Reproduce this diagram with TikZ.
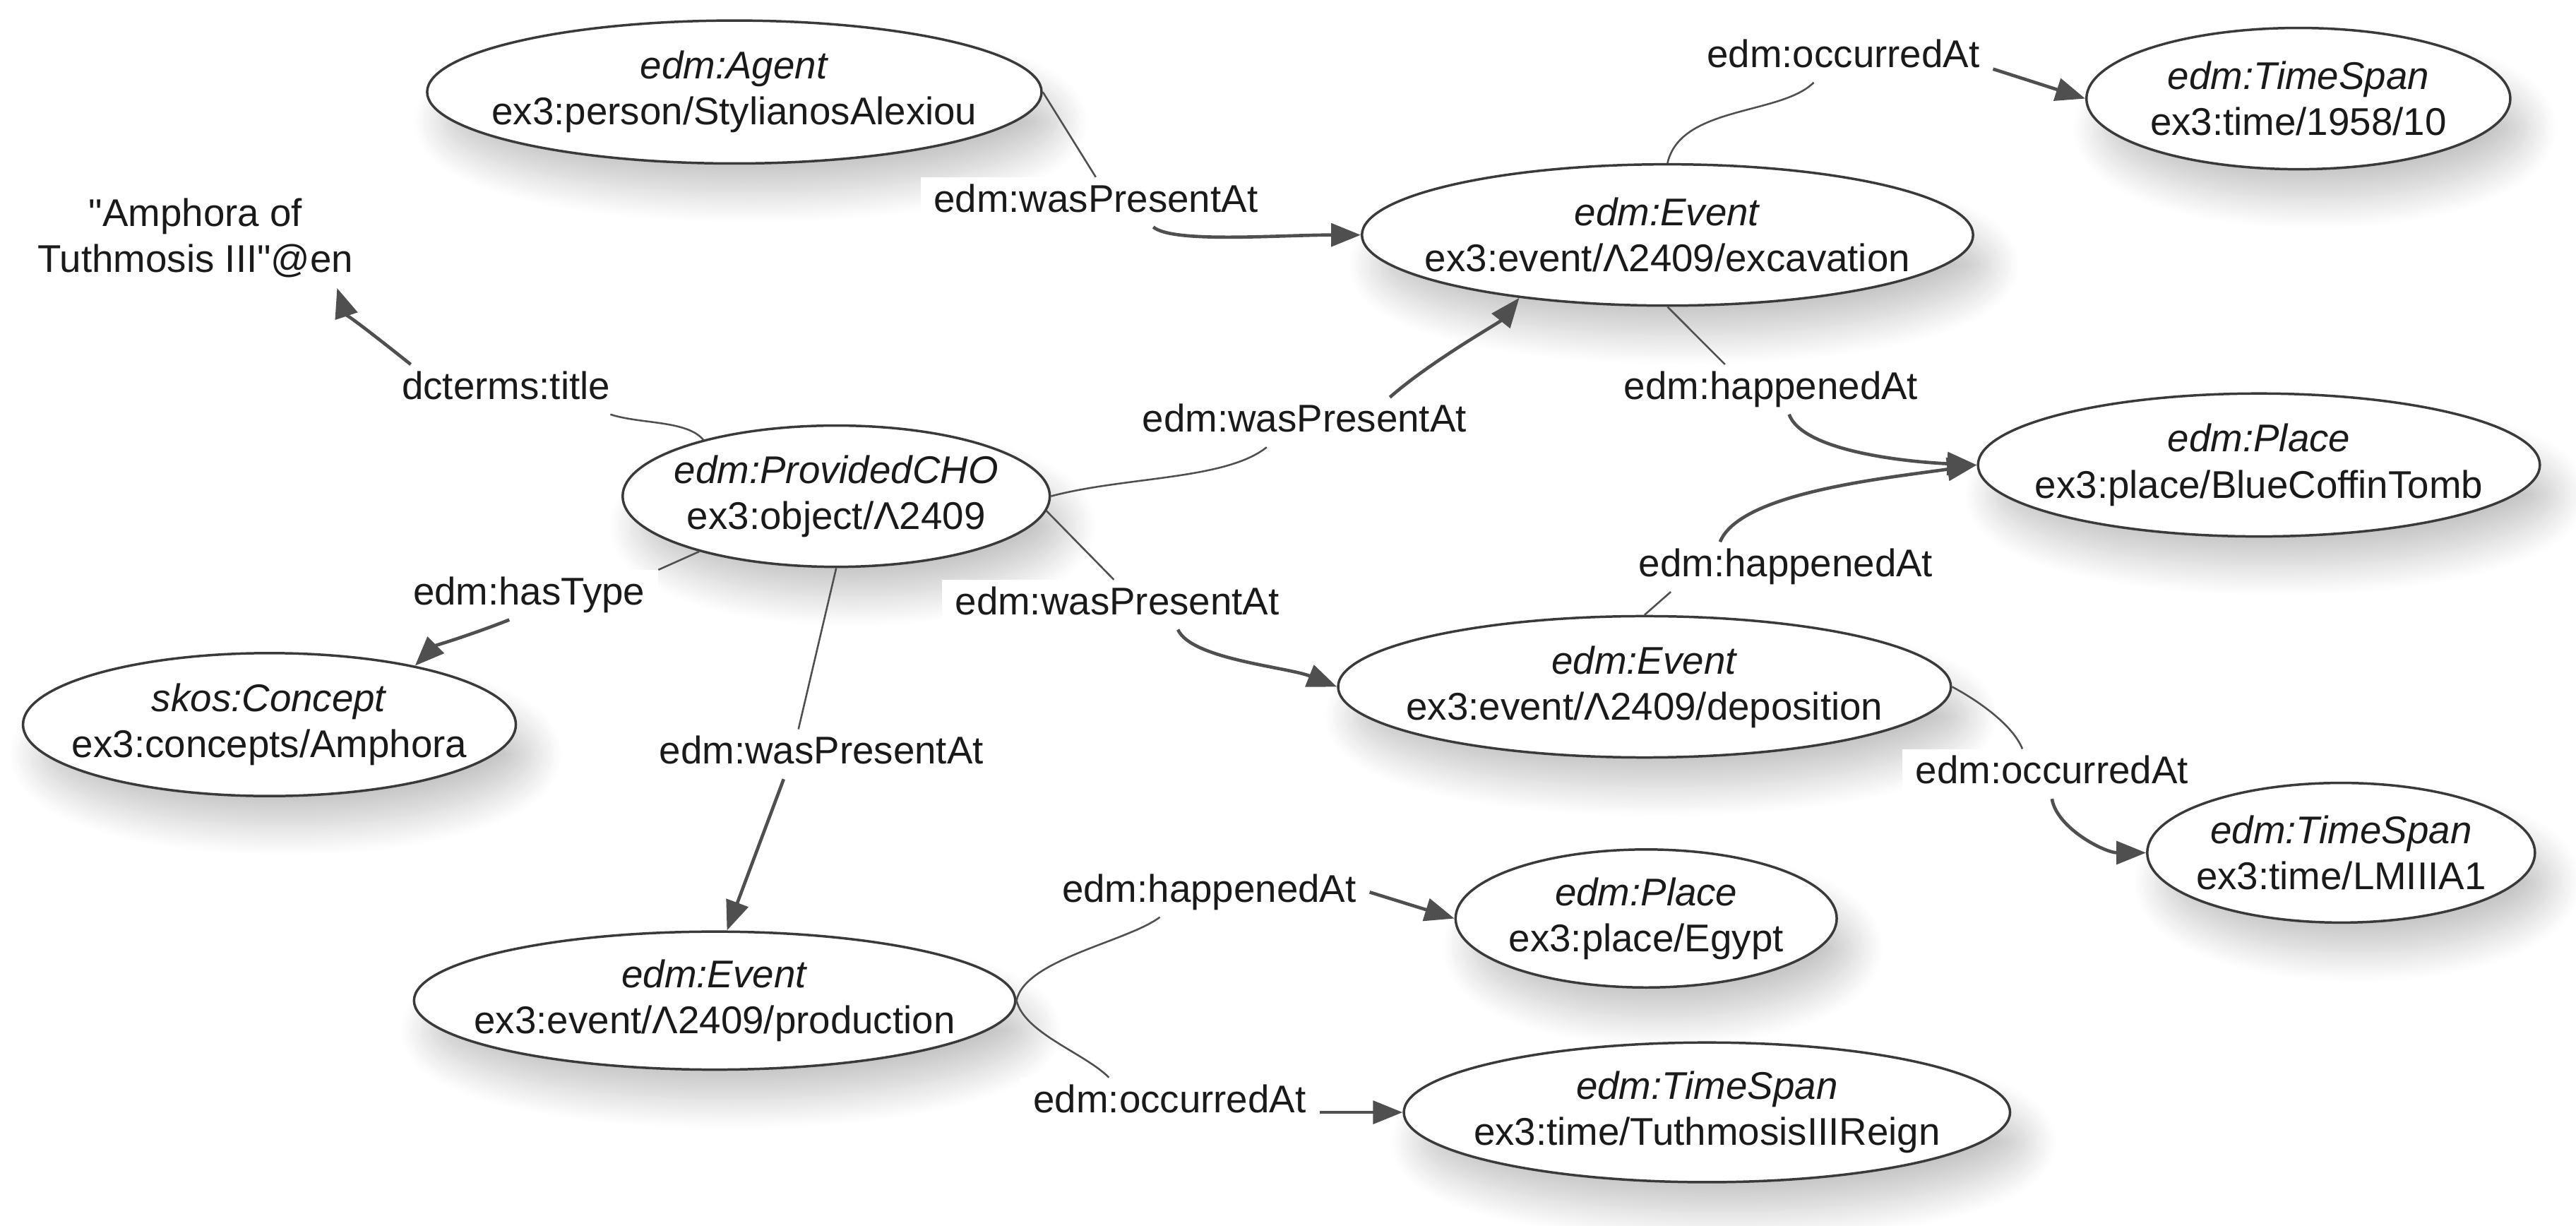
\documentclass[tikz,border=0pt]{standalone}
\usepackage{fontspec}
\setmainfont{Liberation Sans}
\usetikzlibrary{arrows.meta,shapes.geometric,shadows.blur}
\definecolor{bordc}{HTML}{3A3A3A}
\definecolor{edgec}{HTML}{4F4F4F}
\definecolor{textc}{HTML}{1A1A1A}
\tikzset{
  res/.style={ellipse, draw=bordc, line width=1.5pt, fill=white, inner sep=0pt,
    blur shadow={shadow xshift=10pt, shadow yshift=-18pt, shadow blur radius=18pt,
      shadow blur steps=25, shadow opacity=22}},
  rtext/.style={align=center, inner sep=0pt, text=textc, font=\fontsize{23.5}{28}\selectfont},
  lbl/.style={fill=white, inner xsep=8pt, inner ysep=4pt, text height=17pt, text depth=5pt,
    text=textc, font=\fontsize{23.5}{28}\selectfont},
  lnpart/.style={draw=edgec, line width=1.1pt},
  arpart/.style={draw=edgec, line width=2pt, -{Triangle[length=18pt,width=14pt]}},
}
\begin{document}
\begin{tikzpicture}[x=1pt,y=-1pt]
\path[use as bounding box] (0,0) rectangle (1568,746);

% resource nodes
\node[res, minimum width=374pt, minimum height=87pt,
  label={[rtext]center:{\textit{edm:Agent}\\ex3:person/StylianosAlexiou}}] (agent) at (447,56) {};
\node[res, minimum width=372pt, minimum height=86pt,
  label={[rtext]center:{\textit{edm:Event}\\ex3:event/Λ2409/excavation}}] (exc) at (1015,143) {};
\node[res, minimum width=258pt, minimum height=86pt,
  label={[rtext]center:{\textit{edm:TimeSpan}\\ex3:time/1958/10}}] (ts1) at (1399,60) {};
\node[res, minimum width=260pt, minimum height=86pt,
  label={[rtext]center:{\textit{edm:ProvidedCHO}\\ex3:object/Λ2409}}] (cho) at (509,302) {};
\node[res, minimum width=342pt, minimum height=87pt,
  label={[rtext]center:{\textit{edm:Place}\\ex3:place/BlueCoffinTomb}}] (place1) at (1375,283) {};
\node[res, minimum width=373pt, minimum height=86pt,
  label={[rtext]center:{\textit{edm:Event}\\ex3:event/Λ2409/deposition}}] (dep) at (1001,418) {};
\node[res, minimum width=236pt, minimum height=85pt,
  label={[rtext]center:{\textit{edm:TimeSpan}\\ex3:time/LMIIIA1}}] (ts2) at (1425,519) {};
\node[res, minimum width=300pt, minimum height=87pt,
  label={[rtext]center:{\textit{skos:Concept}\\ex3:concepts/Amphora}}] (concept) at (164,441) {};
\node[res, minimum width=366pt, minimum height=84pt,
  label={[rtext]center:{\textit{edm:Event}\\ex3:event/Λ2409/production}}] (prod) at (435,609) {};
\node[res, minimum width=232pt, minimum height=84pt,
  label={[rtext]center:{\textit{edm:Place}\\ex3:place/Egypt}}] (egypt) at (1002,559) {};
\node[res, minimum width=369pt, minimum height=85pt,
  label={[rtext]center:{\textit{edm:TimeSpan}\\ex3:time/TuthmosisIIIReign}}] (reign) at (1039,677) {};

% literal
\node[rtext, inner sep=2pt] (title) at (119,145) {\textquotedbl Amphora of\\Tuthmosis III\textquotedbl @en};

% property labels
\node[lbl] (L1) at (667,123) {edm:wasPresentAt};
\node[lbl] (L2) at (1122,35) {edm:occurredAt};
\node[lbl] (L3) at (308,237) {dcterms:title};
\node[lbl] (L4) at (794,257) {edm:wasPresentAt};
\node[lbl] (L5) at (1078,237) {edm:happenedAt};
\node[lbl] (L6) at (322,362) {edm:hasType};
\node[lbl] (L7) at (680,368) {edm:wasPresentAt};
\node[lbl] (L8) at (1087,345) {edm:happenedAt};
\node[lbl] (L9) at (500,459) {edm:wasPresentAt};
\node[lbl] (L10) at (1249,471) {edm:occurredAt};
\node[lbl] (L11) at (736,543) {edm:happenedAt};
\node[lbl] (L12) at (712,671) {edm:occurredAt};

% edges
\draw[lnpart] (agent.east) -- (L1.north);
\draw[arpart] ([xshift=35pt]L1.south) .. controls +(12,10) and +(-50,0) .. (exc.west);

\draw[lnpart] (exc.north) .. controls +(8,-35) and +(-20,20) .. ([xshift=-18pt]L2.south);
\draw[arpart] ([yshift=-7pt]L2.east) -- (ts1.west);

\draw[lnpart] (cho.157) .. controls +(-10,-12) and +(18,6) .. ([xshift=-8pt]L3.south east);
\draw[arpart] ([xshift=-58pt]L3.north) .. controls +(-15,-12) and +(5,15) .. ([xshift=-12pt,yshift=-4pt]title.south east);

\draw[lnpart] (cho.east) .. controls +(45,-12) and +(-25,20) .. ([xshift=-23pt]L4.south);
\draw[arpart] ([xshift=52pt]L4.north) .. controls +(25,-22) and +(-12,15) .. (exc.203);

\draw[lnpart] (exc.south) -- ([xshift=-28pt]L5.north);
\draw[arpart] ([xshift=11pt]L5.south) .. controls +(8,22) and +(-45,-2) .. (place1.west);

\draw[lnpart] (cho.202) -- (L6.north east);
\draw[arpart] ([xshift=-12pt]L6.south) .. controls +(-20,8) and +(12,-12) .. (concept.22);

\draw[lnpart] (cho.-4) -- ([xshift=-2pt]L7.north);
\draw[arpart] ([xshift=37pt]L7.south) .. controls +(8,18) and +(-30,-12) .. (dep.west);

\draw[lnpart] (dep.north) -- ([xshift=-70pt]L8.south);
\draw[arpart] ([xshift=-40pt]L8.north) .. controls +(12,-30) and +(-55,8) .. (place1.west);

\draw[lnpart] (cho.south) -- ([xshift=-14pt]L9.north);
\draw[arpart] ([xshift=-23pt]L9.south) -- (prod.80);

\draw[lnpart] (dep.east) .. controls +(15,8) and +(-6,-15) .. ([xshift=-18pt]L10.north);
\draw[arpart] (L10.south) .. controls +(3,18) and +(-25,0) .. (ts2.west);

\draw[lnpart] (prod.east) .. controls +(5,-25) and +(-20,15) .. ([xshift=-30pt]L11.south);
\draw[arpart] (L11.east) -- (egypt.west);

\draw[lnpart] (prod.east) .. controls +(5,20) and +(-15,-15) .. ([xshift=-37pt]L12.north);
\draw[arpart] ([yshift=-6pt]L12.east) -- (reign.west);
\end{tikzpicture}
\end{document}
